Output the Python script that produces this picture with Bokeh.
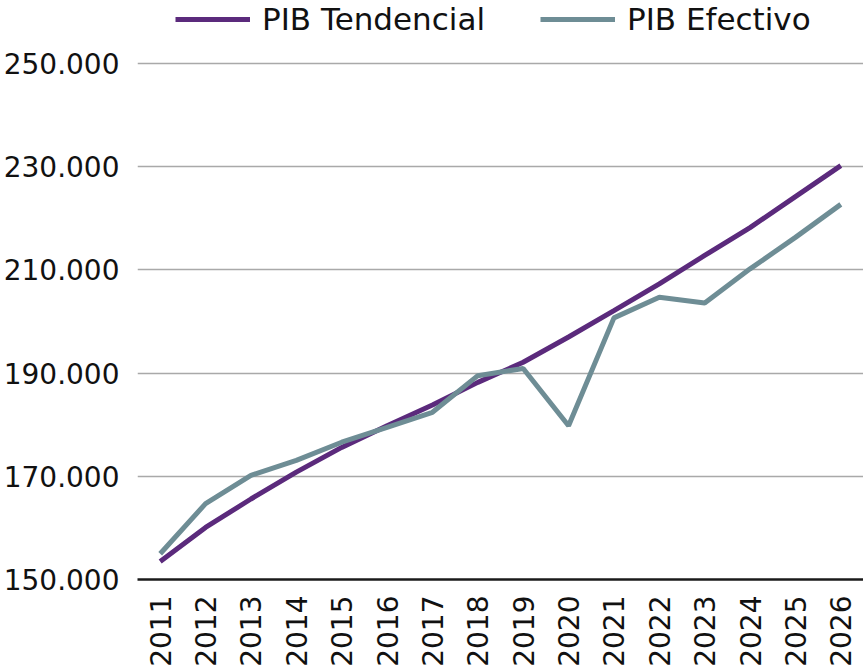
from bokeh.plotting import figure
from bokeh.models import ColumnDataSource, FixedTicker, Legend, LegendItem, Range1d
from bokeh.embed import file_html
from bokeh.resources import INLINE

years = [str(y) for y in range(2011, 2027)]
pib_tendencial = [153500, 160100, 165600, 170800, 175600, 179800, 183800, 188200,
                  192100, 197000, 202100, 207300, 212800, 218200, 224200, 230200]
pib_efectivo = [155000, 164700, 170200, 173100, 176600, 179500, 182400, 189500,
                190900, 179800, 200700, 204700, 203600, 210200, 216300, 222700]
y_ticks = [150000, 170000, 190000, 210000, 230000, 250000]
y_tick_labels = ["150.000", "170.000", "190.000", "210.000", "230.000", "250.000"]

FONT = "DejaVu Sans"
PURPLE = "#5B2A7C"
GRAY = "#6E8D95"

src = ColumnDataSource(dict(year=years, tend=pib_tendencial, efec=pib_efectivo))

# frame extends above the top gridline so the legend can sit inside it
p = figure(x_range=years, y_range=Range1d(150000, 262209),
           frame_width=726, frame_height=579,
           output_backend="svg", toolbar_location=None,
           min_border_left=124, min_border_right=0, min_border_top=0, min_border_bottom=83)
p.outline_line_color = None
p.background_fill_color = "white"
p.border_fill_color = "white"

r1 = p.line("year", "tend", source=src, line_color=PURPLE, line_width=5)
r2 = p.line("year", "efec", source=src, line_color=GRAY, line_width=5)

p.xgrid.grid_line_color = None
p.ygrid.grid_line_color = "#A9A9A9"
p.ygrid.grid_line_width = 1.5
p.yaxis.ticker = FixedTicker(ticks=y_ticks)
p.yaxis.major_label_overrides = {t: l for t, l in zip(y_ticks, y_tick_labels)}
p.yaxis.axis_line_color = None
p.yaxis.major_tick_line_color = None
p.yaxis.minor_tick_line_color = None
p.yaxis.major_label_text_font = FONT
p.yaxis.major_label_text_font_size = "28px"
p.yaxis.major_label_text_color = "#111111"
p.yaxis.major_label_standoff = 12

p.xaxis.axis_line_color = "#1a1a1a"
p.xaxis.axis_line_width = 2.5
p.xaxis.major_tick_line_color = None
p.xaxis.minor_tick_line_color = None
p.xaxis.major_label_orientation = 1.5708
p.xaxis.major_label_text_font = FONT
p.xaxis.major_label_text_font_size = "28px"
p.xaxis.major_label_text_color = "#111111"
p.xaxis.major_label_standoff = 10

legend = Legend(items=[LegendItem(label="PIB Tendencial", renderers=[r1]),
                       LegendItem(label="PIB Efectivo", renderers=[r2])],
                orientation="horizontal", location=(38, 542))
legend.label_text_font = FONT
legend.label_text_font_size = "31px"
legend.label_text_color = "#111111"
legend.border_line_color = None
legend.background_fill_alpha = 0
legend.glyph_width = 75
legend.spacing = 55
legend.label_standoff = 12
legend.padding = 0
legend.margin = 0
p.add_layout(legend, "center")

open("out.html", "w").write(file_html(p, INLINE))
